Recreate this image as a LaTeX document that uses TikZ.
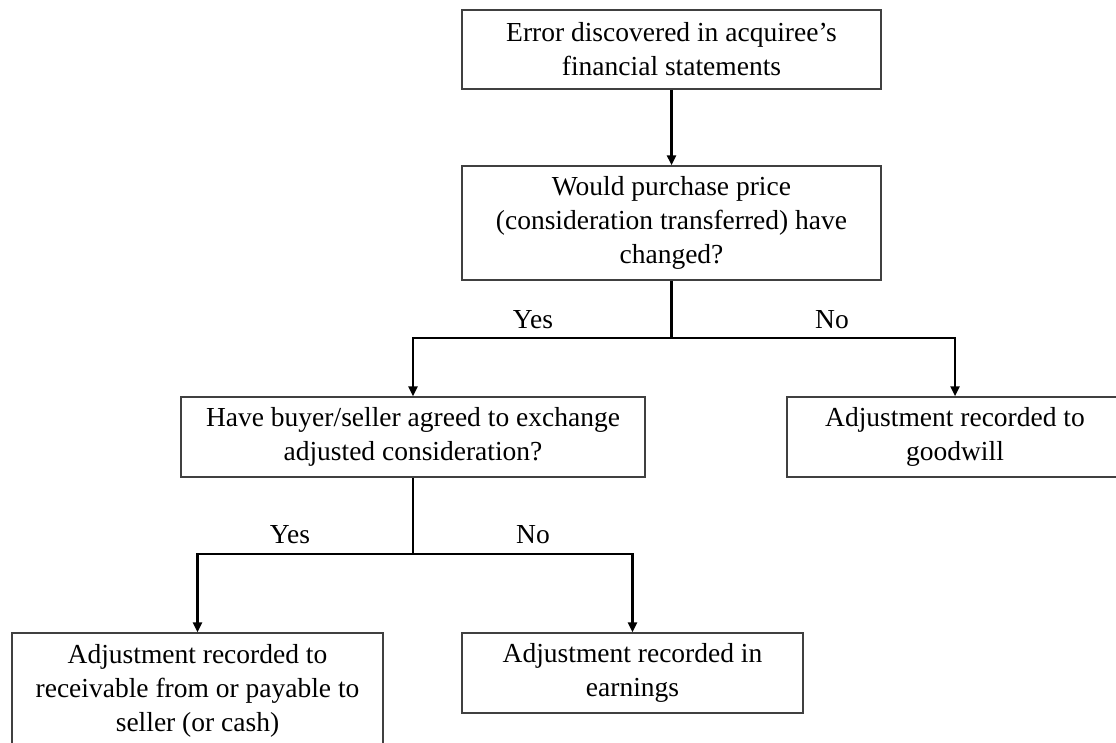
\documentclass[tikz,border=0pt]{standalone}
\usepackage{fontspec}
\setmainfont{Liberation Serif}
\usetikzlibrary{arrows.meta}

\tikzset{
  flowbox/.style={draw=black!75, line width=1.5pt, rectangle, align=center,
    inner sep=0pt, font=\fontsize{27.5}{34}\selectfont},
  conn/.style={line width=2.4pt, black},
  arr/.style={conn, -{Triangle[length=10pt,width=9pt]}},
  branch/.style={font=\fontsize{27.5}{34}\selectfont, inner sep=0pt}
}

\begin{document}
\begin{tikzpicture}[x=1pt,y=-1pt]
  \useasboundingbox (0,0) rectangle (1116,742);

  % decision boxes and outcomes
  \node[flowbox, minimum width=419pt, minimum height=79pt] (err) at (671.5,49.5)
    {Error discovered in acquiree’s\\financial statements};
  \node[flowbox, minimum width=419pt, minimum height=114pt] (price) at (671.5,223)
    {Would purchase price\\(consideration transferred) have\\changed?};
  \node[flowbox, minimum width=464pt, minimum height=80pt] (agree) at (413,437)
    {Have buyer/seller agreed to exchange\\adjusted consideration?};
  \node[flowbox, minimum width=336pt, minimum height=80pt] (goodwill) at (955,437)
    {Adjustment recorded to\\goodwill};
  \node[flowbox, minimum width=371pt, minimum height=116pt] (recv) at (197.5,691)
    {Adjustment recorded to\\receivable from or payable to\\seller (or cash)};
  \node[flowbox, minimum width=341pt, minimum height=80pt] (earn) at (632.5,673)
    {Adjustment recorded in\\earnings};

  % branch points
  \coordinate (split1) at (671.5,338);
  \coordinate (split2) at (413,554);

  % connectors
  \draw[arr] (err) -- (price);
  \draw[conn] (price) -- (split1);
  \draw[arr] (split1) -| (agree.north);
  \draw[arr] (split1) -| (goodwill.north);
  \draw[conn] (agree) -- (split2);
  \draw[arr] (split2) -| (recv.north);
  \draw[arr] (split2) -| (earn.north);

  % branch labels
  \node[branch] (yes1) at (533,320) {Yes};
  \node[branch] (no1) at (832,320) {No};
  \node[branch] (yes2) at (290,535) {Yes};
  \node[branch] (no2) at (533,535) {No};
\end{tikzpicture}
\end{document}
